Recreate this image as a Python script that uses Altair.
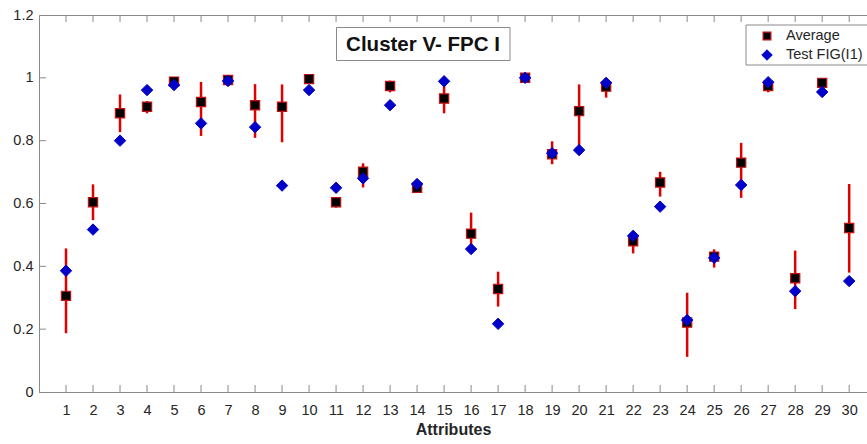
import altair as alt
import pandas as pd

attributes = list(range(1, 31))
average = [0.306, 0.604, 0.887, 0.908, 0.988, 0.923, 0.993, 0.913, 0.908, 0.996,
           0.604, 0.701, 0.974, 0.650, 0.934, 0.504, 0.328, 1.000, 0.757, 0.894,
           0.972, 0.480, 0.667, 0.221, 0.431, 0.730, 0.974, 0.362, 0.984, 0.522]
err_low = [0.187, 0.547, 0.827, 0.887, 0.980, 0.815, 0.985, 0.809, 0.795, 0.990,
           0.587, 0.651, 0.954, 0.645, 0.887, 0.450, 0.272, 0.995, 0.725, 0.780,
           0.937, 0.441, 0.622, 0.112, 0.396, 0.618, 0.954, 0.264, 0.978, 0.380]
err_high = [0.457, 0.661, 0.947, 0.926, 0.995, 0.987, 1.000, 0.980, 0.979, 1.000,
            0.620, 0.728, 0.991, 0.655, 0.980, 0.571, 0.383, 1.005, 0.798, 0.979,
            0.990, 0.500, 0.701, 0.316, 0.454, 0.793, 0.990, 0.450, 0.990, 0.662]
test_fig = [0.386, 0.517, 0.800, 0.961, 0.977, 0.855, 0.990, 0.843, 0.657, 0.961,
            0.650, 0.680, 0.913, 0.662, 0.989, 0.455, 0.217, 1.000, 0.760, 0.770,
            0.984, 0.497, 0.590, 0.229, 0.427, 0.659, 0.986, 0.321, 0.955, 0.353]
series_names = ["Average", "Test FIG(I1)"]
y_ticks = [0, 0.2, 0.4, 0.6, 0.8, 1, 1.2]

FONT = "Liberation Sans"
AXIS_GRAY = "#8a8a8a"
W, H = 828, 377
SQ_FILL, SQ_STROKE, DIA = "#000000", "#c01010", "#0000c8"

err_df = pd.DataFrame({"attr": attributes, "low": err_low, "high": err_high})
avg_df = pd.DataFrame({"attr": attributes, "value": average})
test_df = pd.DataFrame({"attr": attributes, "value": test_fig})
xt_df = pd.DataFrame({"attr": attributes})
yt_df = pd.DataFrame({"v": y_ticks[1:-1]})

xscale = alt.Scale(domain=[0, 30.66], nice=False, zero=False)
yscale = alt.Scale(domain=[0, 1.2], nice=False)

x_axis = alt.Axis(values=attributes, title="Attributes", labelPadding=11,
                  titlePadding=5, labelOverlap=False)
y_axis = alt.Axis(values=y_ticks, format="~g", title=None, labelPadding=6,
                  labelOverlap=False)

X = alt.X("attr:Q", scale=xscale, axis=x_axis)


def Y(field):
    return alt.Y(field, scale=yscale, axis=y_axis)


errbars = alt.Chart(err_df).mark_rule(color="#e00000", strokeWidth=2.5).encode(
    x=X, y=Y("low:Q"), y2="high:Q",
)

avg_pts = alt.Chart(avg_df).mark_point(shape="square", filled=True, size=85,
                                       fill=SQ_FILL, stroke=SQ_STROKE,
                                       strokeWidth=1.2, opacity=1).encode(
    x=X, y=Y("value:Q"))
test_pts = alt.Chart(test_df).mark_point(shape="diamond", filled=True, size=130,
                                         fill=DIA, stroke=DIA, strokeWidth=1,
                                         opacity=1).encode(
    x=X, y=Y("value:Q"))

bottom_ticks = alt.Chart(xt_df).mark_rule(color=AXIS_GRAY, strokeWidth=1).encode(
    x=X, y=alt.value(H - 7), y2=alt.value(H))
top_ticks = alt.Chart(xt_df).mark_rule(color=AXIS_GRAY, strokeWidth=1).encode(
    x=X, y=alt.value(0), y2=alt.value(7))
left_ticks = alt.Chart(yt_df).mark_rule(color=AXIS_GRAY, strokeWidth=1).encode(
    y=Y("v:Q"), x=alt.value(0), x2=alt.value(7))

one = pd.DataFrame({"t": ["Cluster V- FPC I"]})
title_box = alt.Chart(one).mark_rect(fill="white", stroke=AXIS_GRAY, strokeWidth=1).encode(
    x=alt.value(297.5), x2=alt.value(471), y=alt.value(12.5), y2=alt.value(45.5))
title_text = alt.Chart(one).mark_text(
    font=FONT, fontSize=20.5, fontWeight="bold", color="#111111",
    align="center", baseline="middle").encode(
    x=alt.value(384), y=alt.value(30), text="t:N")

# legend (drawn as annotation box)
legend_box = alt.Chart(one).mark_rect(fill="white", stroke=AXIS_GRAY, strokeWidth=1).encode(
    x=alt.value(707), x2=alt.value(840), y=alt.value(10), y2=alt.value(50))
leg_sq = alt.Chart(one).mark_point(shape="square", filled=True, size=60, fill=SQ_FILL,
                                   stroke=SQ_STROKE, strokeWidth=1.2, opacity=1).encode(
    x=alt.value(728), y=alt.value(21))
leg_dia = alt.Chart(one).mark_point(shape="diamond", filled=True, size=110, fill=DIA,
                                    stroke=DIA, strokeWidth=1, opacity=1).encode(
    x=alt.value(728), y=alt.value(40))
leg_txt1 = alt.Chart(pd.DataFrame({"t": [series_names[0]]})).mark_text(
    font=FONT, fontSize=14.5, color="#262626", align="left", baseline="middle").encode(
    x=alt.value(747), y=alt.value(21), text="t:N")
leg_txt2 = alt.Chart(pd.DataFrame({"t": [series_names[1]]})).mark_text(
    font=FONT, fontSize=14.5, color="#262626", align="left", baseline="middle").encode(
    x=alt.value(747), y=alt.value(40), text="t:N")

chart = alt.layer(
    bottom_ticks, top_ticks, left_ticks, errbars, avg_pts, test_pts,
    title_box, title_text, legend_box, leg_sq, leg_dia, leg_txt1, leg_txt2
).properties(
    width=W, height=H, autosize="none", background="white",
    padding={"left": 39, "top": 15, "right": 0, "bottom": 52},
).configure_view(
    stroke=AXIS_GRAY, strokeWidth=1
).configure_axis(
    ticks=False, grid=False, domainColor=AXIS_GRAY, labelColor="#262626",
    titleColor="#262626", labelFont=FONT, titleFont=FONT, labelFontSize=14.5,
    titleFontSize=16, titleFontWeight="bold", labelOverlap=False, labelFlush=False,
)

chart.save("out.html", embed_options={"renderer": "svg", "actions": False})
